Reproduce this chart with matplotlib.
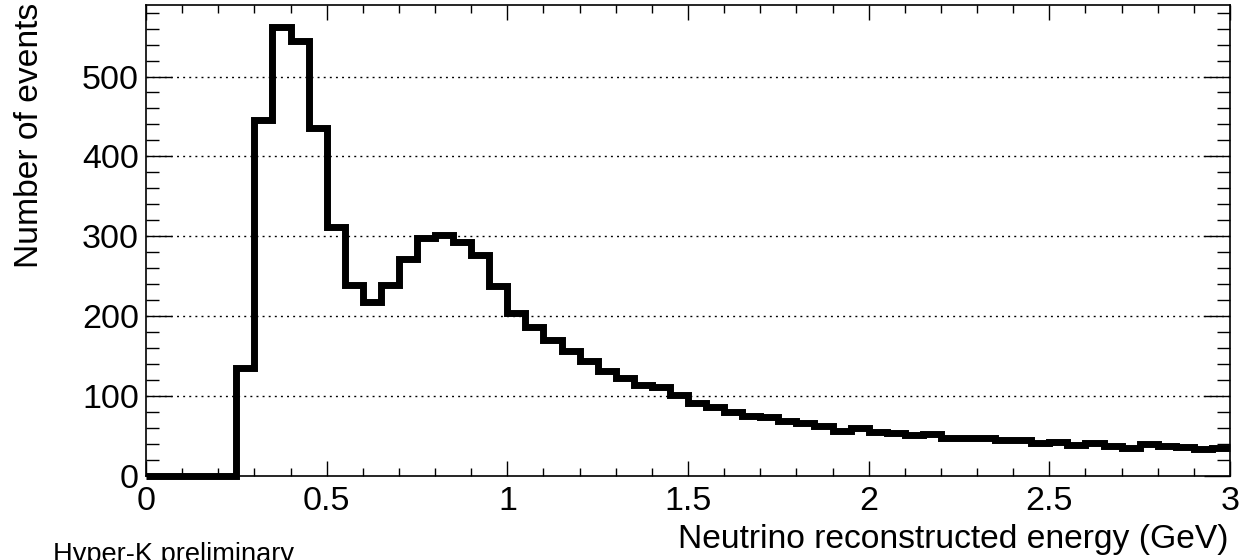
import numpy as np
import matplotlib
matplotlib.use("Agg")
import matplotlib.pyplot as plt
from matplotlib.ticker import MultipleLocator

plt.rcParams['font.family'] = ['Liberation Sans', 'DejaVu Sans']

# ---- data ----
bin_edges = np.round(np.arange(0, 3.0001, 0.05), 4)
counts = [0, 0, 0, 0, 0, 135, 445, 562, 544, 436,
          311, 239, 218, 239, 271, 297, 301, 292, 276, 237,
          204, 186, 170, 156, 143, 131, 122, 113, 111, 101,
          90.5, 86, 80, 75, 73, 68, 66, 62, 56, 60,
          54, 53, 51, 51.5, 47, 46.5, 47.5, 44.5, 45, 40.5,
          42.5, 38.5, 40.5, 36.5, 35, 39, 37, 36, 33.5, 35]
xtick_vals = [0, 0.5, 1, 1.5, 2, 2.5, 3]
xtick_labels = ["0", "0.5", "1", "1.5", "2", "2.5", "3"]
ytick_vals = [0, 100, 200, 300, 400, 500]
ytick_labels = ["0", "100", "200", "300", "400", "500"]
xlabel = "Neutrino reconstructed energy (GeV)"
ylabel = "Number of events"
note = "Hyper-K preliminary"

W, H = 1239, 560
fig = plt.figure(figsize=(W / 100, H / 100), dpi=100)
left, right, bottom, top = 146, 1230, 475.5, 5
ax = fig.add_axes([left / W, 1 - bottom / H, (right - left) / W, (bottom - top) / H])

ax.set_xlim(0, 3)
ax.set_ylim(0, 589.6)

for y in ytick_vals[1:]:
    ax.axhline(y, color='black', lw=1.0, linestyle=(0, (1.4, 3.0)), zorder=1)

st = ax.stairs(counts, bin_edges, baseline=None, fill=False,
               edgecolor='black', linewidth=5.0, zorder=3, clip_on=False)
st.set_joinstyle('miter')

ax.set_xticks(xtick_vals)
ax.set_xticklabels(xtick_labels)
ax.set_yticks(ytick_vals)
ax.set_yticklabels(ytick_labels)
ax.xaxis.set_minor_locator(MultipleLocator(0.1))
ax.yaxis.set_minor_locator(MultipleLocator(20))

ax.tick_params(axis='both', which='both', direction='in', top=True, right=True,
               width=1.0, colors='black', labelsize=24.5)
ax.tick_params(axis='x', which='major', length=10.8, pad=7.5)
ax.tick_params(axis='x', which='minor', length=5.8)
ax.tick_params(axis='y', which='major', length=18.7, pad=5)
ax.tick_params(axis='y', which='minor', length=9.4)
for s in ax.spines.values():
    s.set_linewidth(1.2)

fig.text(1228 / W, 1 - 548 / H, xlabel, ha='right', va='baseline', fontsize=24.2)
fig.text(14 / W, 1 - 3 / H, ylabel, rotation=90, ha='left', va='top', fontsize=24.2)
fig.text(53 / W, 1 - 562 / H, note, ha='left', va='baseline', fontsize=19.6)

fig.savefig("out.png", dpi=100)
